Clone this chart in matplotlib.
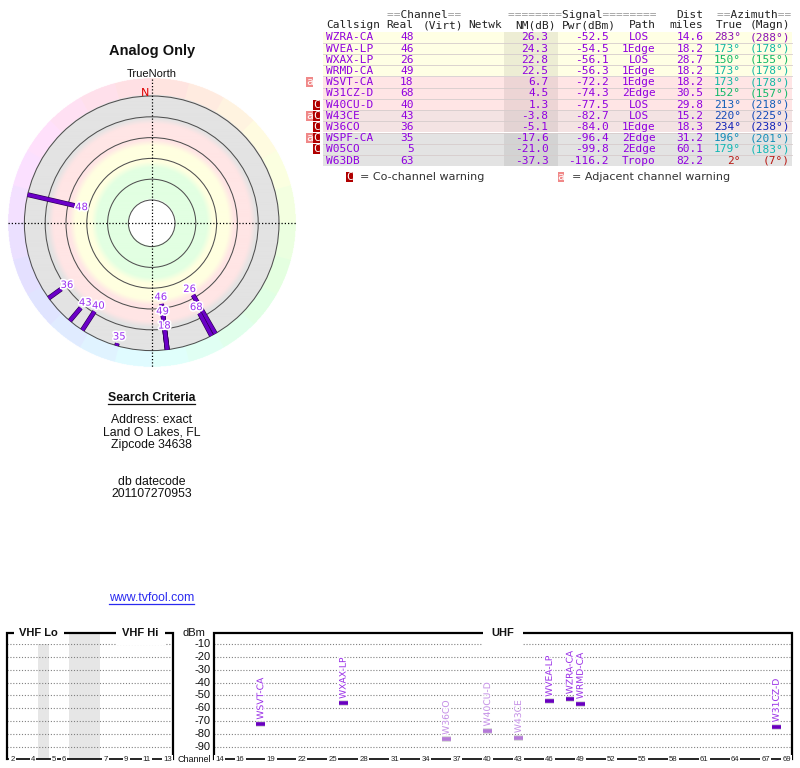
import numpy as np
import matplotlib
matplotlib.use('Agg')
import matplotlib.pyplot as plt
import matplotlib.patheffects as pe
from matplotlib.patches import Rectangle, Circle
from matplotlib.colors import to_rgb, hsv_to_rgb
from matplotlib.transforms import blended_transform_factory
import colorsys

# ---------------- data ----------------
callsigns = ['WZRA-CA', 'WVEA-LP', 'WXAX-LP', 'WRMD-CA', 'WSVT-CA', 'W31CZ-D',
             'W40CU-D', 'W43CE', 'W36CO', 'WSPF-CA', 'W05CO', 'W63DB']
real_ch = [48, 46, 26, 49, 18, 68, 40, 43, 36, 35, 5, 63]
nm_db = [26.3, 24.3, 22.8, 22.5, 6.7, 4.5, 1.3, -3.8, -5.1, -17.6, -21.0, -37.3]
pwr_dbm = [-52.5, -54.5, -56.1, -56.3, -72.2, -74.3, -77.5, -82.7, -84.0, -96.4, -99.8, -116.2]
paths = ['LOS', '1Edge', 'LOS', '1Edge', '1Edge', '2Edge', 'LOS', 'LOS', '1Edge', '2Edge', '2Edge', 'Tropo']
dist_mi = [14.6, 18.2, 28.7, 18.2, 18.2, 30.5, 29.8, 15.2, 18.3, 31.2, 60.1, 82.2]
az_true = [283, 173, 150, 173, 173, 152, 213, 220, 234, 196, 179, 2]
az_magn = [288, 178, 155, 178, 178, 157, 218, 225, 238, 201, 183, 7]
adj_warn = [0, 0, 0, 0, 1, 0, 0, 1, 0, 1, 0, 0]
co_warn = [0, 0, 0, 0, 0, 0, 1, 1, 1, 1, 1, 0]

ring_nm = [80, 60, 40, 20, 0, -20]
band_edges_nm = [47, 26, 5]

vhf_channels = [2, 3, 4, 5, 6, 7, 8, 9, 10, 11, 12, 13]
vhf_slots = [0, 1, 2, 4, 5, 9, 10, 11, 12, 13, 14, 15]
vhf_tick_ch = [2, 4, 5, 6, 7, 9, 11, 13]
uhf_tick_ch = [14, 16, 19, 22, 25, 28, 31, 34, 37, 40, 43, 46, 49, 52, 55, 58, 61, 64, 67, 69]
dbm_ticks = [-10, -20, -30, -40, -50, -60, -70, -80, -90]

search_lines = ['Address: exact', 'Land O Lakes, FL', 'Zipcode 34638']
db_lines = ['db datecode', '201107270953']

# ---------------- figure ----------------
W, H = 800, 768
fig = plt.figure(figsize=(8, 7.68), dpi=100)
ax = fig.add_axes([0, 0, 1, 1])
ax.set_xlim(0, W)
ax.set_ylim(H, 0)
ax.axis('off')

SANS = 'Liberation Sans'
MONO = 'DejaVu Sans Mono'

# ---------------- radar ----------------
CX, CY = 151.7, 223.3
R_IN = 23.3
NM_TOP = 80.0
PX_PER_DB = 1.04
R_HUE = 144.0


def nm_to_r(nm):
    return R_IN + (NM_TOP - nm) * PX_PER_DB


R_OUT = nm_to_r(min(ring_nm))

N = 600
step = 300.0 / N
xs = CX - 150 + (np.arange(N) + 0.5) * step
ys = CY - 150 + (np.arange(N) + 0.5) * step
X, Y = np.meshgrid(xs, ys)
DX, DY = X - CX, Y - CY
R = np.hypot(DX, DY)
AZ = np.degrees(np.arctan2(DX, -DY)) % 360
img = np.ones((N, N, 4))
img[..., 3] = 0.0

band_cols = [np.array(to_rgb(c)) for c in ['#e2ffe2', '#ffffe0', '#ffe5e5', '#e3e3e3']]
col = np.broadcast_to(band_cols[0], (N, N, 3)).copy()
hw = 3.0
for i, e in enumerate(band_edges_nm):
    re = nm_to_r(e)
    t = np.clip((R - re + hw) / (2 * hw), 0, 1)[..., None]
    col = col * (1 - t) + band_cols[i + 1] * t
inside = (R >= R_IN) & (R < R_OUT)
img[inside, :3] = col[inside]
img[inside, 3] = 1
center = R < R_IN
img[center, :3] = 1
img[center, 3] = 1
ring = (R >= R_OUT) & (R < R_HUE)
sector = np.floor(AZ / 15.0) % 24
hsv = np.stack([(sector + 0.5) * 15 / 360.0, np.full_like(R, 0.12), np.ones_like(R)], axis=-1)
hue_rgb = hsv_to_rgb(hsv)
img[ring, :3] = hue_rgb[ring]
img[ring, 3] = 1
ax.imshow(img, extent=(CX - 150, CX + 150, CY + 150, CY - 150), origin='upper',
          interpolation='antialiased', aspect='auto', zorder=0)
ax.set_xlim(0, W)
ax.set_ylim(H, 0)

for lv in ring_nm:
    ax.add_patch(Circle((CX, CY), nm_to_r(lv), fill=False, ec='#505050', lw=0.75, zorder=2))

ax.plot([CX, CX], [CY - R_HUE, CY + R_HUE], color='k', lw=0.9, ls=(0, (1, 1.6)), zorder=3)
ax.plot([CX - R_HUE, CX + R_HUE], [CY, CY], color='k', lw=0.9, ls=(0, (1, 1.6)), zorder=3)

label_pos = []
for i in range(len(callsigns)):
    r0 = nm_to_r(nm_db[i])
    if r0 >= R_OUT:
        continue
    a = np.radians(az_true[i])
    s, c = np.sin(a), np.cos(a)
    ax.plot([CX + r0 * s, CX + R_OUT * s], [CY - r0 * c, CY - R_OUT * c],
            color='#6c00c8', lw=2.6, solid_capstyle='butt', zorder=4,
            path_effects=[pe.Stroke(linewidth=3.5, foreground='#2a0050'), pe.Normal()])
    rl = r0 - 7
    while True:
        lx, ly = CX + rl * s, CY - rl * c
        if any(abs(lx - px) < 12 and abs(ly - py) < 14 for px, py in label_pos):
            rl += 0.5
        else:
            break
    label_pos.append((lx, ly))
    ax.text(lx, ly, str(real_ch[i]), ha='center', va='center', fontsize=7.2,
            family='DejaVu Sans', color='#9b30f0', zorder=6,
            path_effects=[pe.withStroke(linewidth=2.4, foreground='white')])

ax.text(CX - 7, CY - R_OUT - 3.5, 'N', ha='center', va='center', fontsize=8,
        family='DejaVu Sans', color='#dd0000', zorder=5)
ax.text(CX, 74, 'TrueNorth', ha='center', va='center', fontsize=8, family=SANS, color='#111')
ax.text(CX, 51, 'Analog Only', ha='center', va='center', fontsize=10.5, family=SANS,
        weight='bold', color='#111')

# ---------------- table ----------------
TX0, TX1 = 323.3, 791.7
ROW_Y0, ROW_H = 37.3, 11.2
NM_X0, NM_X1 = 504.0, 558.3
FS = 8
TXT = '#9000e0'


def row_bg(nm):
    if nm >= 10:
        return '#ffffe4'
    if nm >= 0:
        return '#ffe5e5'
    if nm > -10:
        return '#f4e3e3'
    return '#e3e3e3'


def darker(c, f=0.93):
    r, g, b = to_rgb(c)
    return (r * f, g * f, b * f)


def az_color(a):
    return colorsys.hsv_to_rgb((a % 360) / 360.0, 0.9, 0.72)


n = len(callsigns)
for i in range(n):
    yc = ROW_Y0 + i * ROW_H
    bg = row_bg(nm_db[i])
    ax.add_patch(Rectangle((TX0, yc - ROW_H / 2), TX1 - TX0, ROW_H, fc=bg, ec='none', zorder=1))
    ax.add_patch(Rectangle((NM_X0, yc - ROW_H / 2), NM_X1 - NM_X0, ROW_H, fc=darker(bg), ec='none', zorder=1.1))
    if i < n - 1:
        ax.plot([TX0, TX1], [yc + ROW_H / 2] * 2, color='#d6cccc', lw=0.6, zorder=1.2)
    kw = dict(family=MONO, fontsize=FS, va='center', zorder=3)
    ax.text(326, yc, callsigns[i], ha='left', color=TXT, **kw)
    ax.text(413.5, yc, str(real_ch[i]), ha='right', color=TXT, **kw)
    ax.text(548.5, yc, f'{nm_db[i]:.1f}', ha='right', color=TXT, **kw)
    ax.text(608.5, yc, f'{pwr_dbm[i]:.1f}', ha='right', color=TXT, **kw)
    ax.text(639, yc, paths[i], ha='center', color=TXT, **kw)
    ax.text(703.5, yc, f'{dist_mi[i]:.1f}', ha='right', color=TXT, **kw)
    ac = az_color(az_true[i])
    ax.text(741, yc, f'{az_true[i]}°', ha='right', color=ac, **kw)
    ax.text(790, yc, f'({az_magn[i]}°)', ha='right', color=ac, **kw)
    if adj_warn[i]:
        ax.add_patch(Rectangle((306, yc - 5), 6.7, 10, fc='#f08888', ec='none', zorder=2))
        ax.text(309.35, yc, 'a', ha='center', va='center', family=MONO, fontsize=8, color='white', zorder=3)
    if co_warn[i]:
        ax.add_patch(Rectangle((313.3, yc - 5), 6.7, 10, fc='#b00000', ec='none', zorder=2))
        ax.text(316.65, yc, 'C', ha='center', va='center', family=MONO, fontsize=8, color='white', zorder=3)

hk = dict(family=MONO, fontsize=FS, va='center', color='#222')
gk = dict(family=MONO, fontsize=FS, va='center', color='#9a9a9a')
ax.text(387.3, 15, '==       ==', ha='left', **gk)
ax.text(387.3, 15, '  Channel  ', ha='left', **hk)
ax.text(508.3, 15, '========      ========', ha='left', **gk)
ax.text(508.3, 15, '        Signal        ', ha='left', **hk)
ax.text(716.7, 15, '==       ==', ha='left', **gk)
ax.text(716.7, 15, '  Azimuth  ', ha='left', **hk)
ax.text(703.5, 15, 'Dist', ha='right', **hk)
HY = 25.5
ax.text(326, HY, 'Callsign', ha='left', **hk)
ax.text(413.5, HY, 'Real', ha='right', **hk)
ax.text(423, HY, '(Virt)', ha='left', **hk)
ax.text(468, HY, 'Netwk', ha='left', **hk)
ax.text(555.5, HY, 'NM(dB)', ha='right', **hk)
ax.text(615.5, HY, 'Pwr(dBm)', ha='right', **hk)
ax.text(642.5, HY, 'Path', ha='center', **hk)
ax.text(703.5, HY, 'miles', ha='right', **hk)
ax.text(743, HY, 'True', ha='right', **hk)
ax.text(790, HY, '(Magn)', ha='right', **hk)

LY = 176.7
ax.add_patch(Rectangle((346, LY - 5), 6.7, 10, fc='#b00000', ec='none', zorder=2))
ax.text(349.35, LY, 'C', ha='center', va='center', family=MONO, fontsize=8, color='white', zorder=3)
ax.text(360, LY, '= Co-channel warning', ha='left', va='center', family='DejaVu Sans', fontsize=8, color='#333')
ax.add_patch(Rectangle((557.7, LY - 5), 6.7, 10, fc='#f08888', ec='none', zorder=2))
ax.text(561.05, LY, 'a', ha='center', va='center', family=MONO, fontsize=8, color='white', zorder=3)
ax.text(571.7, LY, '= Adjacent channel warning', ha='left', va='center', family='DejaVu Sans', fontsize=8, color='#333')

# ---------------- search criteria ----------------
t_sc = ax.text(CX, 398, 'Search Criteria', ha='center', va='center', family=SANS, fontsize=8.8,
               weight='bold', color='#111')
for k, s in enumerate(search_lines):
    ax.text(CX, 420 + k * 12.4, s, ha='center', va='center', family=SANS, fontsize=8.8, color='#111')
for k, s in enumerate(db_lines):
    ax.text(CX, 481.7 + k * 12.4, s, ha='center', va='center', family=SANS, fontsize=8.8, color='#111')
t_url = ax.text(CX, 598, 'www.tvfool.com', ha='center', va='center', family=SANS, fontsize=8.8,
                color='#2a2af0')

fig.canvas.draw()
inv = ax.transData.inverted()
for t, colr, dy in [(t_sc, '#111', 6.0), (t_url, '#2a2af0', 6.0)]:
    bb = t.get_window_extent()
    (x0, _), (x1, _) = inv.transform([(bb.x0, bb.y0), (bb.x1, bb.y0)])
    yy = t.get_position()[1] + dy
    ax.plot([x0, x1], [yy, yy], color=colr, lw=0.9)

# ---------------- spectrum ----------------
def px_axes(x0, y0, x1, y1):
    return [x0 / W, (H - y1) / H, (x1 - x0) / W, (y1 - y0) / H]


Y_BOT, Y_TOP = -99.6, -1.7
ax_v = fig.add_axes(px_axes(7.3, 633.3, 172.7, 759.3))
ax_u = fig.add_axes(px_axes(214.3, 633.3, 791.7, 759.3))
ax_v.set_xlim(-0.5, max(vhf_slots) + 0.5)
ax_u.set_xlim(min(uhf_tick_ch) - 0.5, max(uhf_tick_ch) + 0.5)
slot_of = dict(zip(vhf_channels, vhf_slots))

for a_ in (ax_v, ax_u):
    a_.set_ylim(Y_BOT, Y_TOP)
    a_.set_facecolor('none')
    for sp in a_.spines.values():
        sp.set_visible(False)
    a_.set_xticks([])
    a_.set_yticks([])
    for v in dbm_ticks:
        a_.axhline(v, color='#808080', lw=0.8, ls=(0, (1, 1.6)), zorder=1)
    a_.plot([0, 0, 1, 1], [0, 1, 1, 0], transform=a_.transAxes, color='k', lw=1.6,
            clip_on=False, zorder=3, solid_joinstyle='miter')
    a_.plot([0, 1], [0, 0], transform=a_.transAxes, color='k', lw=1.2, clip_on=False, zorder=3)

# gaps in VHF
prev = None
for s_ in vhf_slots:
    if prev is not None and s_ - prev > 1:
        ax_v.axvspan(prev + 0.5, s_ - 0.5, color='#e6e6e6', zorder=0, lw=0)
    prev = s_

tick_kw = dict(ha='center', va='center', family=SANS, fontsize=5.6, color='#222', clip_on=False, zorder=4,
               bbox=dict(boxstyle='square,pad=0.15', fc='white', ec='none'))
for ch in vhf_tick_ch:
    ax_v.text(slot_of[ch], Y_BOT, str(ch), **tick_kw)
for ch in uhf_tick_ch:
    ax_u.text(ch, Y_BOT, str(ch), **tick_kw)

title_kw = dict(ha='center', va='center', family=SANS, fontsize=8, weight='bold', color='#111',
                clip_on=False, zorder=5)
ax_v.text(0.19, 1.0, 'VHF Lo', transform=ax_v.transAxes,
          bbox=dict(boxstyle='square,pad=0.5', fc='white', ec='none'), **title_kw)
ax_v.text(0.805, 1.0, 'VHF Hi', transform=ax_v.transAxes,
          bbox=dict(boxstyle='square,pad=0.6', fc='white', ec='none'), **title_kw)
ax_u.text(0.5, 1.0, 'UHF', transform=ax_u.transAxes,
          bbox=dict(boxstyle='square,pad=0.8', fc='white', ec='none'), **title_kw)

tr = blended_transform_factory(ax_u.transAxes, ax_u.transData)
lx = (210.5 - 214.3) / (791.7 - 214.3)
for v in dbm_ticks:
    ax_u.text(lx, v, str(v), transform=tr, ha='right', va='center', family=SANS, fontsize=8,
              color='#111', clip_on=False)
ax_u.text((205.5 - 214.3) / (791.7 - 214.3), 1.0, 'dBm', transform=ax_u.transAxes, ha='right',
          va='center', family=SANS, fontsize=8, color='#111', clip_on=False)
ax_u.text((211 - 214.3) / (791.7 - 214.3), 0.0, 'Channel', transform=ax_u.transAxes, ha='right',
          va='center', family=SANS, fontsize=6.5, color='#111', clip_on=False)

for i in range(n):
    if nm_db[i] <= -10:
        continue
    ch = real_ch[i]
    if ch >= 14:
        a_, xc = ax_u, ch
    else:
        a_, xc = ax_v, slot_of[ch]
    weak = nm_db[i] < 2
    mcol = '#b57ad8' if weak else '#6a00c0'
    tcol = '#c48fe6' if weak else '#9a30e6'
    a_.plot([xc - 0.42, xc + 0.42], [pwr_dbm[i]] * 2, color=mcol, lw=2.6, solid_capstyle='butt',
            zorder=5, path_effects=[pe.Stroke(linewidth=4.0, foreground='#d4d4d4'), pe.Normal()])
    a_.annotate(callsigns[i], (xc, pwr_dbm[i]), xytext=(0, 3.2), textcoords='offset points',
                rotation=90, ha='center', va='bottom', family='DejaVu Sans', fontsize=6.6,
                color=tcol, zorder=6,
                path_effects=[pe.withStroke(linewidth=2, foreground='white')])

fig.savefig('out.png', dpi=100)
